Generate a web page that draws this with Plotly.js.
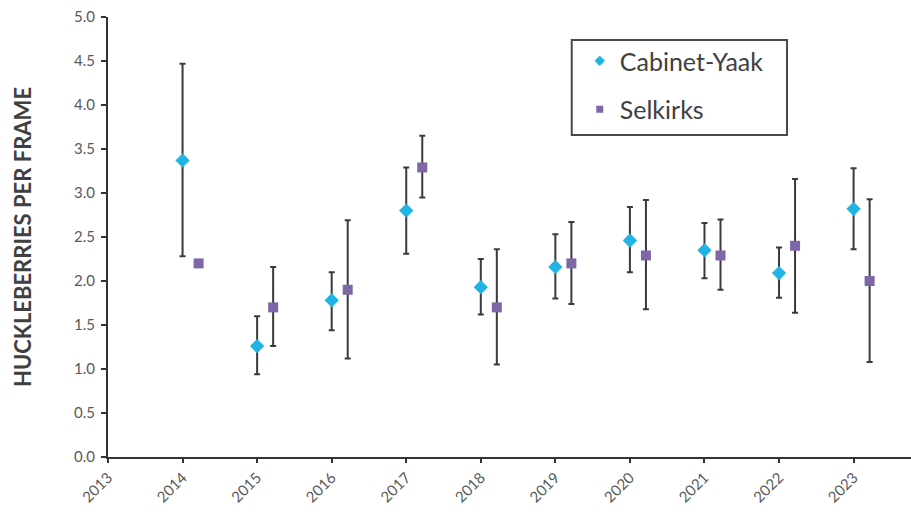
<!DOCTYPE html>
<html>
<head>
<meta charset="utf-8">
<script src="https://cdn.plot.ly/plotly-3.0.1.min.js"></script>
<style>html,body{margin:0;padding:0;background:#fff;}#chart{width:911px;height:516px;}</style>
</head>
<body>
<div id="chart"></div>
<script>
// Data
const years = [2014, 2015, 2016, 2017, 2018, 2019, 2020, 2021, 2022, 2023];
const cabinetYaak = [3.37, 1.26, 1.78, 2.80, 1.93, 2.16, 2.46, 2.35, 2.09, 2.82];
const cabinetYaakHigh = [4.47, 1.60, 2.10, 3.29, 2.25, 2.53, 2.84, 2.66, 2.38, 3.28];
const cabinetYaakLow = [2.28, 0.94, 1.44, 2.31, 1.62, 1.80, 2.10, 2.03, 1.81, 2.36];
const selkirks = [2.20, 1.70, 1.90, 3.29, 1.70, 2.20, 2.29, 2.29, 2.40, 2.00];
const selkirksHigh = [null, 2.16, 2.69, 3.65, 2.36, 2.67, 2.92, 2.70, 3.16, 2.93];
const selkirksLow = [null, 1.26, 1.12, 2.95, 1.05, 1.74, 1.68, 1.90, 1.64, 1.08];
const seriesNames = ['Cabinet-Yaak', 'Selkirks'];
const selkirksOffset = 0.215; // horizontal dodge of the Selkirks series (years)
const xTickVals = [2013, 2014, 2015, 2016, 2017, 2018, 2019, 2020, 2021, 2022, 2023];
const yTickVals = [0, 0.5, 1, 1.5, 2, 2.5, 3, 3.5, 4, 4.5, 5];

const up = (hi, v) => hi.map((h, i) => h == null ? 0 : +(h - v[i]).toFixed(3));
const dn = (lo, v) => lo.map((l, i) => l == null ? 0 : +(v[i] - l).toFixed(3));

const errStyle = {color: '#3a3a3a', thickness: 2, width: 3};
const cyColor = '#1fb4e4';
const skColor = '#7f66a6';

const traces = [
  {
    type: 'scatter', mode: 'markers', name: seriesNames[0], legendgroup: 'a', showlegend: false,
    x: years, y: cabinetYaak,
    marker: {symbol: 'diamond', size: 11, color: cyColor},
    error_y: Object.assign({type: 'data', symmetric: false,
      array: up(cabinetYaakHigh, cabinetYaak), arrayminus: dn(cabinetYaakLow, cabinetYaak)}, errStyle)
  },
  {
    type: 'scatter', mode: 'markers', name: seriesNames[1], legendgroup: 'b', showlegend: false,
    x: years.map(y => y + selkirksOffset), y: selkirks,
    marker: {symbol: 'square', size: 10, color: skColor},
    error_y: Object.assign({type: 'data', symmetric: false,
      array: up(selkirksHigh, selkirks), arrayminus: dn(selkirksLow, selkirks)}, errStyle)
  },
  // legend-only entries (smaller legend symbols, as in the reference)
  {type: 'scatter', mode: 'markers', name: seriesNames[0], legendgroup: 'a', x: [null], y: [null],
   marker: {symbol: 'diamond', size: 8, color: cyColor}, hoverinfo: 'skip'},
  {type: 'scatter', mode: 'markers', name: seriesNames[1], legendgroup: 'b', x: [null], y: [null],
   marker: {symbol: 'square', size: 7, color: skColor}, hoverinfo: 'skip'}
];

const layout = {
  width: 911, height: 516,
  margin: {l: 108, r: 0, t: 17, b: 59},
  paper_bgcolor: '#ffffff', plot_bgcolor: '#ffffff',
  font: {family: 'Lato, "Open Sans", sans-serif', color: '#595959'},
  showlegend: true,
  legend: {
    x: 0.5875, y: 0.952, xanchor: 'left', yanchor: 'top',
    borderwidth: 0, bgcolor: 'rgba(0,0,0,0)',
    font: {size: 25, color: '#404040', family: 'Lato, sans-serif'},
    tracegroupgap: 13
  },
  shapes: [{
    type: 'rect', xref: 'paper', yref: 'paper', layer: 'below',
    x0: 0.5775, x1: 0.8456, y0: 0.7318, y1: 0.9477,
    line: {color: '#4a4a4a', width: 2}, fillcolor: '#ffffff'
  }],
  xaxis: {
    range: [2013, 2023.77], tickvals: xTickVals, ticktext: xTickVals.map(String),
    tickangle: -45, ticks: 'outside', ticklen: 4, tickwidth: 2, tickcolor: '#333333',
    showline: true, linecolor: '#333333', linewidth: 2, showgrid: false, zeroline: false,
    tickfont: {size: 15, color: '#595959'}
  },
  yaxis: {
    range: [0, 5], tickvals: yTickVals, ticktext: yTickVals.map(v => v.toFixed(1)),
    ticks: 'outside', ticklen: 5, tickwidth: 2, tickcolor: '#333333', ticklabelstandoff: 3,
    showline: true, linecolor: '#333333', linewidth: 2, showgrid: false, zeroline: false,
    tickfont: {size: 15, color: '#595959'},
    automargin: true,
    title: {text: 'HUCKLEBERRIES PER FRAME', standoff: 36,
      font: {size: 22, color: '#404040', family: 'Lato, sans-serif', weight: 'bold'}}
  }
};

Plotly.newPlot('chart', traces, layout, {displayModeBar: false, staticPlot: true});
</script>
</body>
</html>
